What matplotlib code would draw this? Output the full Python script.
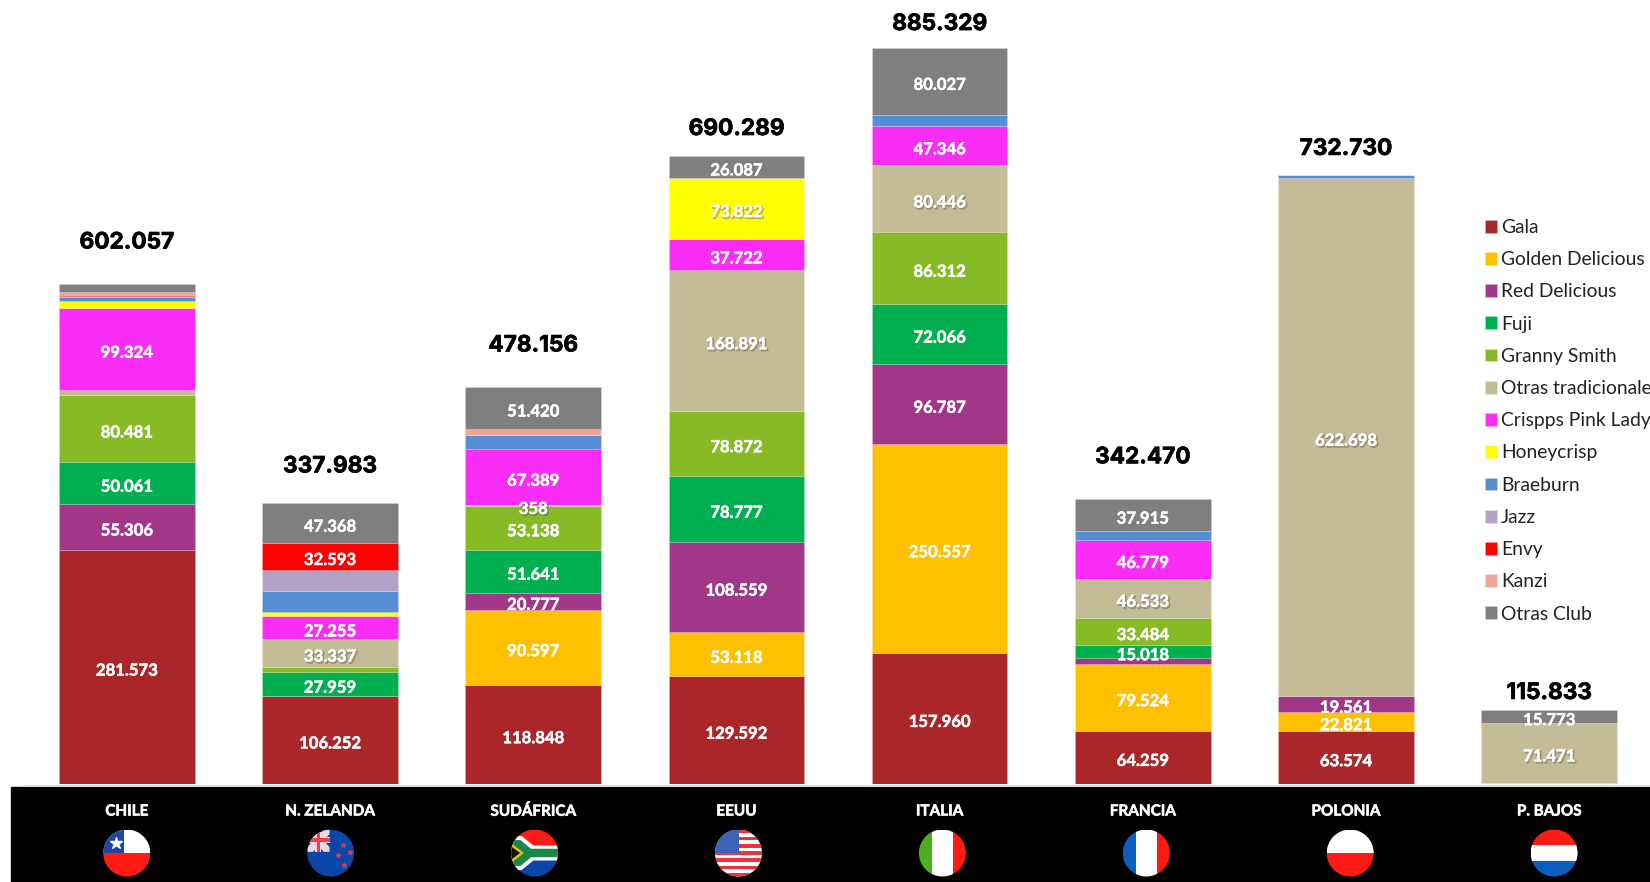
import numpy as np
import matplotlib
matplotlib.use('Agg')
import matplotlib.pyplot as plt
import matplotlib.patheffects as pe
from matplotlib.patches import Circle, Polygon, Rectangle

paises = ['CHILE', 'N. ZELANDA', 'SUDÁFRICA', 'EEUU', 'ITALIA', 'FRANCIA', 'POLONIA', 'P. BAJOS']
totales = ['602.057', '337.983', '478.156', '690.289', '885.329', '342.470', '732.730', '115.833']

gala =       [281573, 106252, 118848, 129592, 157960, 64259, 63574, 0]
golden =     [0, 0, 90597, 53118, 250557, 79524, 22821, 1800]
red_del =    [55306, 0, 20777, 108559, 96787, 8000, 19561, 0]
fuji =       [50061, 27959, 51641, 78777, 72066, 15018, 0, 0]
granny =     [80481, 6700, 53138, 78872, 86312, 33484, 0, 0]
otras_trad = [6000, 33337, 358, 168891, 80446, 46533, 622698, 71471]
pink_lady =  [99324, 27255, 67389, 37722, 47346, 46779, 0, 0]
honeycrisp = [8800, 5000, 0, 73822, 0, 0, 0, 0]
braeburn =   [4800, 26000, 17500, 0, 13828, 10958, 4076, 0]
jazz =       [600, 25000, 0, 0, 0, 0, 0, 0]
envy =       [1500, 32593, 0, 0, 0, 0, 0, 0]
kanzi =      [3500, 0, 6488, 0, 0, 0, 0, 0]
otras_club = [10112, 47368, 51420, 26087, 80027, 37915, 0, 15773]

nombres = ['Gala', 'Golden Delicious', 'Red Delicious', 'Fuji', 'Granny Smith', 'Otras tradicionales',
           'Crispps Pink Lady', 'Honeycrisp', 'Braeburn', 'Jazz', 'Envy', 'Kanzi', 'Otras Club']
series = [gala, golden, red_del, fuji, granny, otras_trad, pink_lady, honeycrisp,
          braeburn, jazz, envy, kanzi, otras_club]
colores = ['#AB2629', '#FFC000', '#A2378A', '#00B050', '#86BB25', '#C4BC96', '#F92DF5', '#FFFF00',
           '#558ED5', '#B2A2C7', '#FF0000', '#F2A497', '#7F7F7F']

# segmentos sin etiqueta en el original (pais, serie)
sin_etiqueta = [(0, 5), (0, 7), (0, 8), (0, 9), (0, 10), (0, 11), (0, 12), (1, 4), (1, 7), (1, 8), (1, 9),
                (2, 8), (2, 11), (4, 8), (5, 2), (5, 8), (6, 8), (7, 1)]
# etiquetas con sombra
con_sombra = [5, 7]
# distancia en px entre el total y la parte alta de la barra
hueco_total = [41, 37, 41, 27, 24, 42, 26, 17]

W, H = 1650, 882
plt.rcParams['font.family'] = ['Lato', 'DejaVu Sans']
fig = plt.figure(figsize=(W / 100, H / 100), dpi=100, facecolor='white')

# ejes de las barras: base en y=784 px, 0.8313 px por unidad
ax = fig.add_axes([0, (H - 784) / H, 1, 784 / H])
sep = 203.2
ax.set_xlim(-126.8 / sep, (W - 126.8) / sep)
ax.set_ylim(0, 784 / 0.8313 * 1000)
ax.axis('off')

x = np.arange(len(paises))
base = np.zeros(len(paises))
handles = []
for j, (nom, val, col) in enumerate(zip(nombres, series, colores)):
    val = np.array(val, dtype=float)
    b = ax.bar(x, val, 0.668, bottom=base, color=col, edgecolor=(1, 1, 1, 0.2), linewidth=0.5, label=nom)
    handles.append(b)
    for i in range(len(x)):
        if val[i] == 0 or (i, j) in sin_etiqueta:
            continue
        t = ax.annotate('{:,.0f}'.format(val[i]).replace(',', '.'), (x[i], base[i] + val[i] / 2),
                        xytext=(0, -2.6), textcoords='offset points',
                        ha='center', va='center', color='white', fontsize=12, fontweight='bold')
        if j in con_sombra:
            t.set_path_effects([pe.SimpleLineShadow(offset=(1, -1), shadow_color='#444444', alpha=0.4, linewidth=1),
                                pe.withStroke(linewidth=0.35, foreground='white')])
        else:
            t.set_path_effects([pe.withStroke(linewidth=0.35, foreground='white')])
    base += val

for i in range(len(x)):
    t = ax.annotate(totales[i], (x[i], base[i]), xytext=(0, hueco_total[i] * 0.72), textcoords='offset points',
                    ha='center', va='center', fontsize=16.3, fontweight='bold', color='black',
                    family=['Inter', 'DejaVu Sans'])
    t.set_path_effects([pe.withStroke(linewidth=0.5, foreground='black')])
ax.plot([24 / W, 1], [-0.002, -0.002], transform=ax.transAxes, color='#dddddd', lw=1.5, clip_on=False)

leg = fig.legend(handles=handles[:], loc='upper left', bbox_to_anchor=(1485 / W, 1 - 219 / H), frameon=False,
                 fontsize=13.9, handlelength=0.64, handleheight=0.64, handletextpad=0.2, labelspacing=0.788,
                 borderpad=0, borderaxespad=0, labelcolor='#222222')

# franja negra con paises y banderas, en pixeles
band = fig.add_axes([0, 0, 1, 1], zorder=-1)
band.set_xlim(0, W)
band.set_ylim(H, 0)
band.axis('off')
band.add_patch(Rectangle((11, 787), W - 11, H - 787, color='black'))


def bandera(cx, cy, r, partes):
    # partes: (color, puntos en unidades de -1 a 1, y hacia arriba)
    c = Circle((cx, cy), r, transform=band.transData, fc='none', ec='none')
    band.add_patch(c)
    for col, pts in partes:
        pts = np.array(pts, dtype=float)
        p = Polygon(np.c_[cx + pts[:, 0] * r, cy - pts[:, 1] * r], closed=True, fc=col, ec='none', zorder=3)
        band.add_patch(p)
        p.set_clip_path(c)


def caja(x0, y0, x1, y1):
    return [(x0, y0), (x1, y0), (x1, y1), (x0, y1)]


rojo, blanco, azul = '#FF1A14', '#FFFFFF', '#0B46A8'
usa = [(blanco, caja(-1, -1, 1, 1))]
for k in range(7):
    y0 = -1 + k * 2 / 6.5
    usa.append(('#F0303A', caja(-1, y0, 1, y0 + 1 / 6.5)))
usa.append(('#3E63B8', caja(-1, 0.0, 0.0, 1)))
sudafrica = [(rojo, caja(-1, 0, 1, 1)), (azul, caja(-1, -1, 1, 0)),
             (blanco, [(-1, 0.72), (-0.55, 0.72), (-0.05, 0.32), (1, 0.32), (1, -0.32), (-0.05, -0.32),
                       (-0.55, -0.72), (-1, -0.72)]),
             ('#168A45', [(-1, 0.55), (-0.6, 0.55), (-0.15, 0.18), (1, 0.18), (1, -0.18), (-0.15, -0.18),
                          (-0.6, -0.55), (-1, -0.55)]),
             ('#E8B820', [(-1, 0.42), (-0.45, 0), (-1, -0.42)]),
             ('#111111', [(-1, 0.28), (-0.62, 0), (-1, -0.28)])]
nzelanda = [(azul, caja(-1, -1, 1, 1)),
            ('#E8D8E0', [(-1, 1), (-0.75, 1), (-0.05, 0.25), (-0.05, 0.05), (-0.3, 0.05), (-1, 0.8)]),
            ('#E8D8E0', [(-0.05, 1), (-0.3, 1), (-1, 0.25), (-1, 0.05), (-0.75, 0.05), (-0.05, 0.8)]),
            ('#E8D8E0', caja(-0.66, 0.05, -0.4, 1)), ('#E8D8E0', caja(-1, 0.42, -0.05, 0.68)),
            ('#F0404A', caja(-0.6, 0.05, -0.46, 1)), ('#F0404A', caja(-1, 0.48, -0.05, 0.62))]
banderas = [
    [(blanco, caja(-1, 0, 1, 1)), (rojo, caja(-1, -1, 1, 0)), ('#1F45A0', caja(-1, 0, -0.1, 1))],
    nzelanda,
    sudafrica,
    usa,
    [('#4CAF20', caja(-1, -1, -0.45, 1)), (blanco, caja(-0.45, -1, 0.45, 1)), (rojo, caja(0.45, -1, 1, 1))],
    [('#0B5FBF', caja(-1, -1, -0.45, 1)), (blanco, caja(-0.45, -1, 0.45, 1)), (rojo, caja(0.45, -1, 1, 1))],
    [(blanco, caja(-1, 0, 1, 1)), (rojo, caja(-1, -1, 1, 0))],
    [(rojo, caja(-1, 0.33, 1, 1)), (blanco, caja(-1, -0.33, 1, 0.33)), ('#0B5FBF', caja(-1, -1, 1, -0.33))],
]
for i, nombre in enumerate(paises):
    t = band.text(126.8 + sep * i, 811.5, nombre, ha='center', va='center', color='white', fontsize=11,
                  fontweight='bold')
    t.set_path_effects([pe.withStroke(linewidth=0.4, foreground='white')])
    bandera(126.8 + 203.9 * i, 853, 23.5, banderas[i])
# estrellas
band.plot(126.8 - 11, 843, marker='*', ms=9, color='white', zorder=4)
for dx, dy in [(12, -8), (19, -1), (7, 2), (13, 12)]:
    band.plot(126.8 + 203.9 + dx, 853 + dy, marker='*', ms=3.5, color='#C04060', zorder=4)

fig.savefig('out.png', dpi=100)
